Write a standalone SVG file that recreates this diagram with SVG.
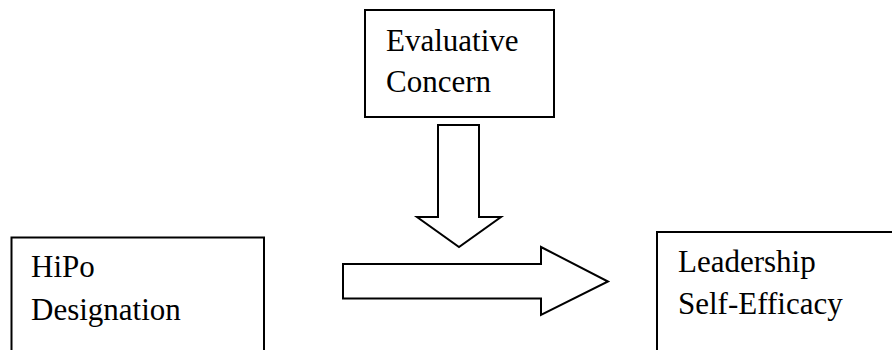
<svg xmlns="http://www.w3.org/2000/svg" width="892" height="350" viewBox="0 0 892 350">
<style>
.box{fill:#fff;stroke:#000;stroke-width:2}
.arr{fill:#fff;stroke:#000;stroke-width:2;stroke-linejoin:miter}
.t{font-family:"Liberation Serif","Times New Roman",serif;font-size:31px;fill:#000}
</style>
<rect width="892" height="350" fill="#fff"/>
<g id="evaluative-concern">
<rect class="box" x="365" y="10" width="189" height="107"/>
<text class="t" x="386" y="50.5">Evaluative</text>
<text class="t" x="386" y="92">Concern</text>
</g>
<g id="hipo-designation">
<rect class="box" x="11.5" y="237.5" width="252.5" height="130"/>
<text class="t" x="31" y="277">HiPo</text>
<text class="t" x="31" y="320">Designation</text>
</g>
<g id="leadership-self-efficacy">
<rect class="box" x="657" y="232" width="260" height="130"/>
<text class="t" x="678" y="272">Leadership</text>
<text class="t" x="678" y="313.5">Self-Efficacy</text>
</g>
<g id="connectors">
<polygon class="arr" points="438,125 479,125 479,217 501,217 459,247 417,217 438,217"/>
<polygon class="arr" points="343,264 541,264 541,247 608,281.5 541,315 541,298.5 343,298.5"/>
</g>
</svg>
